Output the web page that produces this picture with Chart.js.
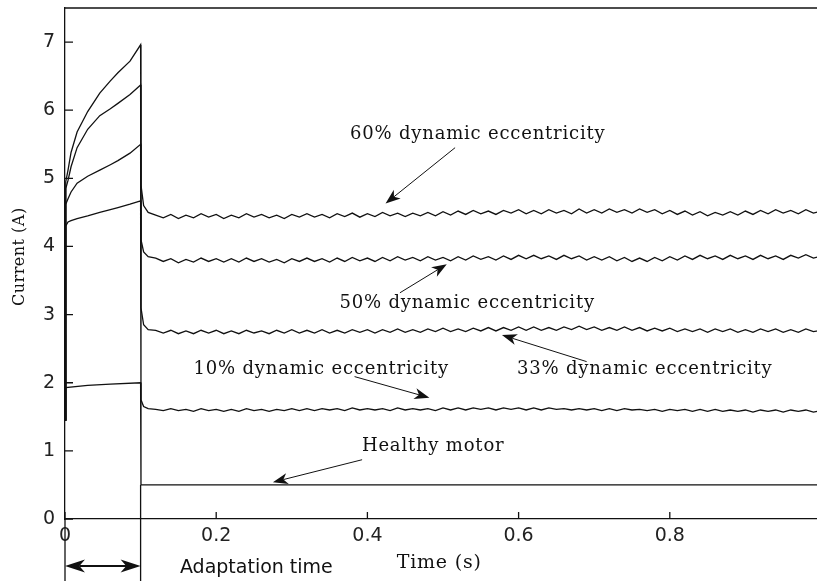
<!DOCTYPE html>
<html>
<head>
<meta charset="utf-8">
<script src="https://cdn.jsdelivr.net/npm/chart.js@4.4.1/dist/chart.umd.min.js"></script>
<style>
html, body { margin: 0; padding: 0; background: #fff; overflow: hidden; }
#wrap { width: 817px; height: 581px; overflow: hidden; }
</style>
</head>
<body>
<div id="wrap"><canvas id="currentChart" width="830" height="581"></canvas></div>
<script>
// time axis (s) shared by the four eccentricity curves
var time = [0, 0.001, 0.004, 0.008, 0.016, 0.03, 0.046, 0.06, 0.07, 0.086, 0.1, 0.1005, 0.104, 0.11,
  0.12, 0.13, 0.14, 0.15, 0.16, 0.17, 0.18, 0.19, 0.20, 0.21,
  0.22, 0.23, 0.24, 0.25, 0.26, 0.27, 0.28, 0.29, 0.30, 0.31,
  0.32, 0.33, 0.34, 0.35, 0.36, 0.37, 0.38, 0.39, 0.40, 0.41,
  0.42, 0.43, 0.44, 0.45, 0.46, 0.47, 0.48, 0.49, 0.50, 0.51,
  0.52, 0.53, 0.54, 0.55, 0.56, 0.57, 0.58, 0.59, 0.60, 0.61,
  0.62, 0.63, 0.64, 0.65, 0.66, 0.67, 0.68, 0.69, 0.70, 0.71,
  0.72, 0.73, 0.74, 0.75, 0.76, 0.77, 0.78, 0.79, 0.80, 0.81,
  0.82, 0.83, 0.84, 0.85, 0.86, 0.87, 0.88, 0.89, 0.90, 0.91,
  0.92, 0.93, 0.94, 0.95, 0.96, 0.97, 0.98, 0.99, 1.00];

var ecc60 = [1.45, 4.95, 5.12, 5.38, 5.68, 5.98, 6.25, 6.43, 6.55, 6.72, 6.96, 4.9, 4.6, 4.5,
  4.46, 4.42, 4.47, 4.41, 4.46, 4.42, 4.48, 4.43, 4.47, 4.41,
  4.46, 4.42, 4.48, 4.43, 4.47, 4.42, 4.46, 4.41, 4.47, 4.43,
  4.48, 4.43, 4.47, 4.42, 4.48, 4.44, 4.49, 4.43, 4.48, 4.44,
  4.50, 4.45, 4.49, 4.44, 4.49, 4.45, 4.50, 4.45, 4.51, 4.46,
  4.52, 4.47, 4.53, 4.48, 4.52, 4.47, 4.53, 4.49, 4.54, 4.48,
  4.53, 4.48, 4.54, 4.49, 4.53, 4.48, 4.55, 4.49, 4.54, 4.49,
  4.55, 4.50, 4.54, 4.49, 4.55, 4.50, 4.54, 4.48, 4.53, 4.47,
  4.52, 4.46, 4.51, 4.45, 4.50, 4.46, 4.51, 4.46, 4.52, 4.47,
  4.53, 4.48, 4.54, 4.49, 4.53, 4.48, 4.54, 4.49, 4.52];

var ecc50 = [1.45, 4.85, 4.97, 5.17, 5.45, 5.72, 5.92, 6.02, 6.1, 6.23, 6.37, 4.1, 3.92, 3.85,
  3.83, 3.78, 3.82, 3.76, 3.81, 3.77, 3.83, 3.78, 3.82, 3.77,
  3.82, 3.77, 3.83, 3.78, 3.82, 3.77, 3.81, 3.76, 3.82, 3.78,
  3.83, 3.78, 3.82, 3.77, 3.83, 3.78, 3.84, 3.79, 3.83, 3.78,
  3.84, 3.79, 3.85, 3.80, 3.84, 3.79, 3.85, 3.80, 3.84, 3.79,
  3.85, 3.80, 3.86, 3.81, 3.85, 3.80, 3.86, 3.81, 3.87, 3.82,
  3.87, 3.82, 3.86, 3.81, 3.87, 3.82, 3.86, 3.80, 3.85, 3.80,
  3.85, 3.79, 3.84, 3.78, 3.83, 3.78, 3.84, 3.79, 3.85, 3.80,
  3.86, 3.81, 3.87, 3.82, 3.86, 3.81, 3.87, 3.82, 3.86, 3.81,
  3.87, 3.82, 3.86, 3.81, 3.87, 3.83, 3.88, 3.83, 3.86];

var ecc33 = [1.45, 4.62, 4.7, 4.8, 4.93, 5.03, 5.12, 5.2, 5.26, 5.37, 5.5, 3.1, 2.85, 2.78,
  2.77, 2.73, 2.77, 2.72, 2.76, 2.72, 2.77, 2.73, 2.77, 2.72,
  2.76, 2.72, 2.77, 2.73, 2.76, 2.72, 2.77, 2.73, 2.78, 2.73,
  2.77, 2.73, 2.78, 2.73, 2.77, 2.73, 2.78, 2.74, 2.78, 2.73,
  2.78, 2.74, 2.79, 2.74, 2.78, 2.74, 2.79, 2.75, 2.80, 2.75,
  2.79, 2.75, 2.80, 2.76, 2.81, 2.76, 2.81, 2.77, 2.82, 2.77,
  2.82, 2.77, 2.81, 2.77, 2.82, 2.78, 2.83, 2.78, 2.82, 2.77,
  2.81, 2.77, 2.82, 2.77, 2.81, 2.76, 2.80, 2.76, 2.80, 2.75,
  2.79, 2.75, 2.79, 2.74, 2.79, 2.75, 2.79, 2.74, 2.78, 2.74,
  2.79, 2.75, 2.79, 2.74, 2.78, 2.74, 2.79, 2.75, 2.77];

var ecc10 = [1.45, 4.3, 4.36, 4.38, 4.41, 4.45, 4.5, 4.54, 4.57, 4.62, 4.67, 1.75, 1.65, 1.62,
  1.61, 1.59, 1.62, 1.59, 1.61, 1.58, 1.62, 1.59, 1.61, 1.58,
  1.61, 1.58, 1.62, 1.59, 1.61, 1.58, 1.61, 1.59, 1.62, 1.59,
  1.62, 1.59, 1.62, 1.60, 1.62, 1.59, 1.63, 1.60, 1.62, 1.60,
  1.62, 1.59, 1.63, 1.60, 1.62, 1.60, 1.62, 1.59, 1.63, 1.60,
  1.63, 1.60, 1.63, 1.61, 1.63, 1.60, 1.63, 1.61, 1.63, 1.60,
  1.63, 1.60, 1.63, 1.61, 1.62, 1.60, 1.62, 1.60, 1.62, 1.59,
  1.62, 1.59, 1.62, 1.60, 1.61, 1.59, 1.61, 1.58, 1.61, 1.59,
  1.61, 1.58, 1.61, 1.58, 1.61, 1.58, 1.60, 1.58, 1.60, 1.57,
  1.60, 1.58, 1.60, 1.57, 1.60, 1.58, 1.60, 1.57, 1.59];

// healthy motor has its own (flat) time base
var healthyTime = [0, 0.001, 0.03, 0.06, 0.1, 0.1005, 1.0];
var healthy = [1.45, 1.93, 1.96, 1.98, 2.0, 0.5, 0.5];

var xTicks = [0, 0.2, 0.4, 0.6, 0.8];
var yTicks = [0, 1, 2, 3, 4, 5, 6, 7];

// text labels with arrows, positions in data units
var notes = [
  { text: "60% dynamic eccentricity", at: [0.546, 5.64], from: [0.516, 5.45], to: [0.424, 4.63] },
  { text: "50% dynamic eccentricity", at: [0.532, 3.17], from: [0.443, 3.32], to: [0.505, 3.74] },
  { text: "10% dynamic eccentricity", at: [0.339, 2.19], from: [0.383, 2.09], to: [0.482, 1.78] },
  { text: "33% dynamic eccentricity", at: [0.767, 2.19], from: [0.690, 2.31], to: [0.578, 2.70] },
  { text: "Healthy motor", at: [0.487, 1.06], from: [0.393, 0.87], to: [0.275, 0.54] }
];

function pairs(xs, ys) {
  var out = [];
  for (var i = 0; i < xs.length; i++) out.push({ x: xs[i], y: ys[i] });
  return out;
}

function arrowHead(ctx, x1, y1, x2, y2, len, half) {
  var a = Math.atan2(y2 - y1, x2 - x1);
  var c = Math.cos(a), s = Math.sin(a);
  var bx = x2 - c * len, by = y2 - s * len;
  var mx = x2 - c * len * 0.72, my = y2 - s * len * 0.72;
  ctx.beginPath();
  ctx.moveTo(x2, y2);
  ctx.lineTo(bx - s * half, by + c * half);
  ctx.lineTo(mx, my);
  ctx.lineTo(bx + s * half, by - c * half);
  ctx.closePath();
  ctx.fill();
  return [mx, my];
}

var extras = {
  id: 'extras',
  afterDraw: function (chart) {
    var ctx = chart.ctx, xs = chart.scales.x, ys = chart.scales.y, area = chart.chartArea;
    var X = function (v) { return xs.getPixelForValue(v); };
    var Y = function (v) { return ys.getPixelForValue(v); };
    ctx.save();
    ctx.strokeStyle = '#111';
    ctx.fillStyle = '#111';
    ctx.lineWidth = 1.3;

    // top frame line
    ctx.beginPath();
    ctx.moveTo(area.left, area.top);
    ctx.lineTo(area.right, area.top);
    ctx.stroke();

    // inward ticks
    ctx.beginPath();
    xTicks.forEach(function (t) { ctx.moveTo(X(t), area.bottom); ctx.lineTo(X(t), area.bottom - 7); });
    yTicks.forEach(function (t) { ctx.moveTo(area.left, Y(t)); ctx.lineTo(area.left + 8, Y(t)); });
    ctx.stroke();

    // adaptation boundaries running below the axis
    ctx.beginPath();
    ctx.moveTo(X(0), area.bottom); ctx.lineTo(X(0), chart.height);
    ctx.moveTo(X(0.1), Y(0.5)); ctx.lineTo(X(0.1), chart.height);
    ctx.stroke();

    // double arrow for adaptation time
    var ay = Y(-0.69);
    ctx.lineWidth = 2.2;
    var p1 = arrowHead(ctx, X(0.1), ay, X(0), ay, 20, 6.5);
    var p2 = arrowHead(ctx, X(0), ay, X(0.1), ay, 20, 6.5);
    ctx.beginPath(); ctx.moveTo(p1[0], ay); ctx.lineTo(p2[0], ay); ctx.stroke();

    // annotations
    ctx.lineWidth = 1;
    ctx.font = '18px "DejaVu Serif"';
    ctx.letterSpacing = '0.8px';
    ctx.textAlign = 'center';
    ctx.textBaseline = 'middle';
    notes.forEach(function (n) {
      ctx.fillText(n.text, X(n.at[0]), Y(n.at[1]));
      var m = arrowHead(ctx, X(n.from[0]), Y(n.from[1]), X(n.to[0]), Y(n.to[1]), 15, 5.5);
      ctx.beginPath(); ctx.moveTo(X(n.from[0]), Y(n.from[1])); ctx.lineTo(m[0], m[1]); ctx.stroke();
    });

    // axis titles
    ctx.font = '19px "DejaVu Serif"';
    ctx.fillText('Time (s)', X(0.495), Y(-0.65));
    ctx.letterSpacing = '0px';
    ctx.font = '19px "DejaVu Sans"';
    ctx.textAlign = 'left';
    ctx.fillText('Adaptation time', X(0.152), Y(-0.72));
    ctx.save();
    ctx.translate(X(-0.0595), Y(3.85));
    ctx.rotate(-Math.PI / 2);
    ctx.textAlign = 'center';
    ctx.font = '16px "DejaVu Serif"';
    ctx.letterSpacing = '0.5px';
    ctx.fillText('Current (A)', 0, 0);
    ctx.restore();
    ctx.restore();
  }
};

var lineStyle = { borderColor: '#111', borderWidth: 1.3, pointRadius: 0, tension: 0, fill: false };

function noEdgePadding(s) {
  s.paddingTop = 0; s.paddingBottom = 0; s.paddingLeft = 0; s.paddingRight = 0;
}

var config = {
  type: 'line',
  data: {
    datasets: [
      Object.assign({ label: '60%', data: pairs(time, ecc60) }, lineStyle),
      Object.assign({ label: '50%', data: pairs(time, ecc50) }, lineStyle),
      Object.assign({ label: '33%', data: pairs(time, ecc33) }, lineStyle),
      Object.assign({ label: '10%', data: pairs(time, ecc10) }, lineStyle),
      Object.assign({ label: 'Healthy', data: pairs(healthyTime, healthy) }, lineStyle)
    ]
  },
  options: {
    responsive: false,
    animation: false,
    devicePixelRatio: 1,
    layout: { padding: { top: 8, right: 9, bottom: 0, left: 0 } },
    plugins: { legend: { display: false }, tooltip: { enabled: false } },
    scales: {
      x: {
        type: 'linear', min: 0, max: 1,
        grid: { display: false, drawTicks: false, tickLength: 0 },
        border: { display: true, color: '#111', width: 1.3 },
        afterFit: function (s) { s.height = 62; noEdgePadding(s); },
        afterBuildTicks: function (s) { s.ticks = xTicks.map(function (v) { return { value: v }; }); },
        ticks: {
          padding: 6, maxRotation: 0, color: '#222',
          font: { family: 'DejaVu Sans', size: 19 },
          callback: function (v) { return v === 0 ? '0' : v.toFixed(1); }
        }
      },
      y: {
        min: 0, max: 7.5,
        grid: { display: false, drawTicks: false, tickLength: 0 },
        border: { display: true, color: '#111', width: 1.3 },
        afterFit: function (s) { s.width = 65; noEdgePadding(s); },
        afterBuildTicks: function (s) { s.ticks = yTicks.map(function (v) { return { value: v }; }); },
        ticks: {
          padding: 10, color: '#222',
          font: { family: 'DejaVu Sans', size: 19 }
        }
      }
    }
  },
  plugins: [extras]
};

var currentChart = new Chart(document.getElementById('currentChart'), config);
</script>
</body>
</html>
